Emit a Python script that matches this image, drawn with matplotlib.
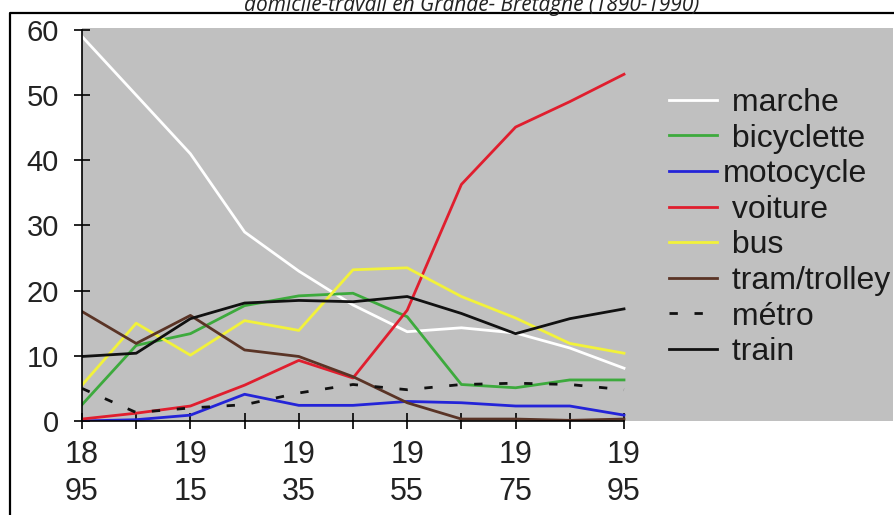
import matplotlib
matplotlib.use("Agg")
import matplotlib.pyplot as plt
from matplotlib.lines import Line2D

# Données : part des modes de transport domicile-travail (%)
annees = [1895, 1905, 1915, 1925, 1935, 1945, 1955, 1965, 1975, 1985, 1995]
marche = [59, 50, 41, 29, 23, 17.8, 13.7, 14.3, 13.5, 11.2, 8.1]
bicyclette = [2.5, 11.6, 13.4, 17.7, 19.2, 19.6, 16, 5.6, 5.1, 6.3, 6.3]
motocycle = [0, 0.2, 0.9, 4.1, 2.4, 2.4, 3.0, 2.8, 2.3, 2.3, 0.9]
voiture = [0.3, 1.2, 2.3, 5.5, 9.3, 6.6, 17, 36.3, 45.1, 49, 53.2]
bus = [5.5, 15, 10.1, 15.4, 13.9, 23.2, 23.5, 19.1, 15.8, 11.9, 10.4]
tram = [16.8, 11.9, 16.2, 10.9, 9.9, 6.8, 2.8, 0.3, 0.3, 0.1, 0.3]
metro = [5, 1.3, 2, 2.5, 4.3, 5.6, 4.8, 5.6, 5.8, 5.6, 4.8]
train = [9.9, 10.4, 15.7, 18.1, 18.5, 18.3, 19.1, 16.5, 13.4, 15.7, 17.2]

ticks_maj = [1895, 1915, 1935, 1955, 1975, 1995]
labels_maj = ["18\n95", "19\n15", "19\n35", "19\n55", "19\n75", "19\n95"]

plt.rcParams["font.family"] = ["Liberation Sans", "DejaVu Sans"]

fig = plt.figure(figsize=(8.95, 5.15), dpi=100)
ax = fig.add_axes([82 / 895, 1 - 421 / 515, (893 - 82) / 895, (421 - 28) / 515])
ax.set_facecolor("#c0c0c0")

lw = 2.0
ax.plot(annees, marche, color="white", lw=lw, label=" marche")
ax.plot(annees, bicyclette, color="#3daa3d", lw=lw, label=" bicyclette")
ax.plot(annees, motocycle, color="#2424d8", lw=lw, label="motocycle")
ax.plot(annees, voiture, color="#e01e2e", lw=lw, label=" voiture")
ax.plot(annees, bus, color="#f2f23a", lw=lw, label=" bus")
ax.plot(annees, tram, color="#5a3426", lw=lw, label=" tram/trolley")
ax.plot(annees, metro, color="#111111", lw=lw, ls=(0, (3, 6)), label=" métro")
ax.plot(annees, train, color="#111111", lw=lw, label=" train")

ax.set_xlim(1895, 1895 + (893 - 82) / 5.42)
ax.set_ylim(0, 60.3)

for s in ["top", "right"]:
    ax.spines[s].set_visible(False)
ax.spines["left"].set_bounds(0, 60)
ax.spines["bottom"].set_bounds(1895, 1995)
ax.spines["left"].set_linewidth(1.2)
ax.spines["bottom"].set_linewidth(1.2)

ax.set_yticks(range(0, 61, 10))
ax.set_xticks(ticks_maj)
ax.set_xticklabels(labels_maj, linespacing=1.3)
ax.set_xticks(annees, minor=True)
ax.tick_params(axis="y", direction="inout", length=11, width=1.2, pad=11, labelsize=21,
               labelcolor="#222222")
ax.tick_params(axis="x", which="both", direction="inout", length=12, width=1.2, pad=8,
               labelsize=22, labelcolor="#222222")

ax.legend(loc="upper left", bbox_to_anchor=((669 - 82) / 811, 1 - (88 - 28) / 393),
          bbox_transform=ax.transAxes, frameon=False, fontsize=23, handlelength=1.5,
          handletextpad=0.2, labelspacing=0.175, borderaxespad=0, borderpad=0,
          labelcolor="#1a1a1a")

# cadre et titre coupé en haut
fig.add_artist(Line2D([10 / 895, 10 / 895, 1], [0, 1 - 12.7 / 515, 1 - 12.7 / 515],
                      transform=fig.transFigure, color="black", lw=1.6))
fig.text(472 / 895, 1 - 11 / 515, "domicile-travail en Grande- Bretagne (1890-1990)",
         ha="center", va="baseline", fontsize=15, fontstyle="italic",
         family=["Open Sans", "DejaVu Sans"], color="#222222")

fig.savefig("out.png", dpi=100)
